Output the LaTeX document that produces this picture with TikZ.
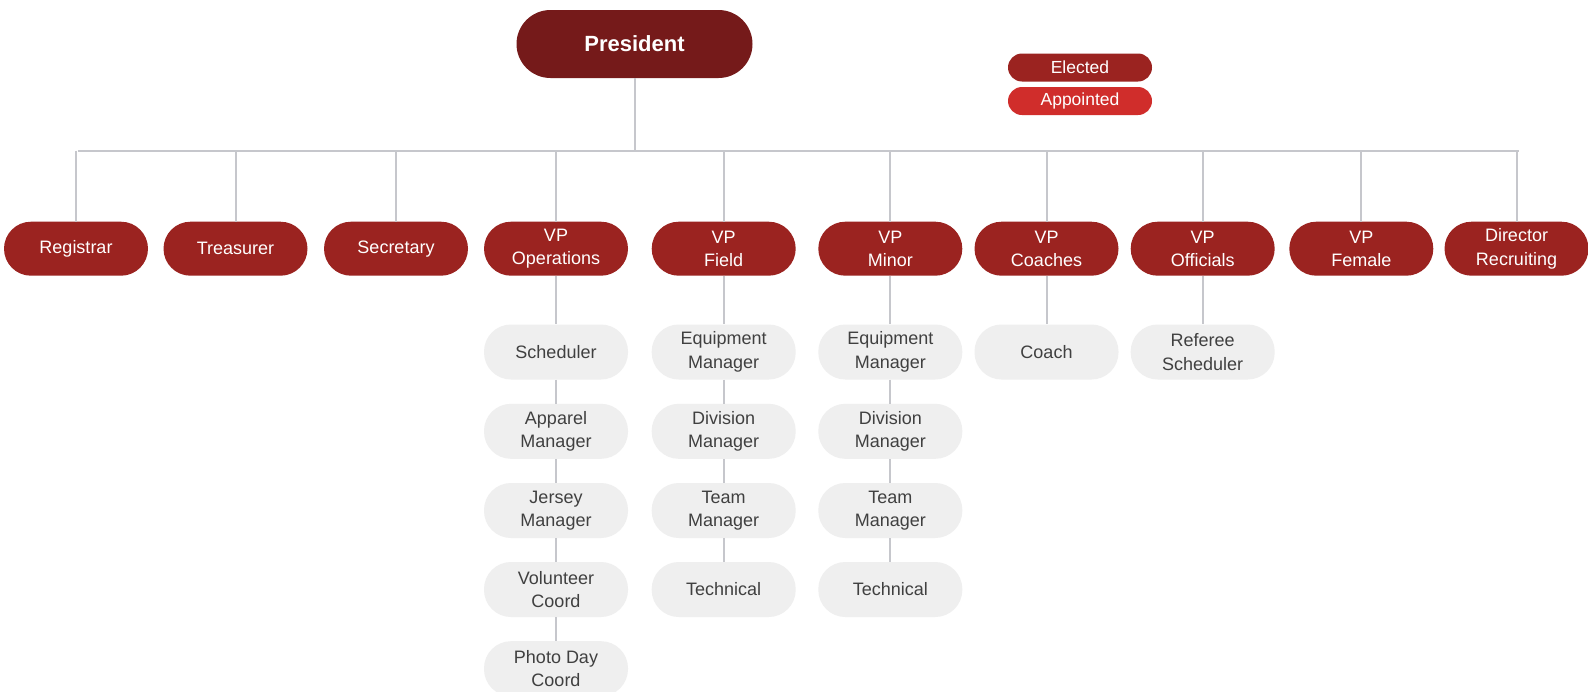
\documentclass[tikz,border=0pt]{standalone}
\usepackage{fontspec}
\setmainfont{Liberation Sans}
\definecolor{cPres}{HTML}{751A1A}
\definecolor{cRed}{HTML}{9B2320}
\definecolor{cApp}{HTML}{D02D2B}
\definecolor{cGray}{HTML}{EFEFEF}
\definecolor{cLine}{HTML}{C6C7CC}
\definecolor{cGText}{HTML}{404040}
\begin{document}
\begin{tikzpicture}[x=1pt,y=-1pt,
  pill/.style={rectangle, rounded corners=27pt, minimum width=144pt, minimum height=54pt,
    inner sep=0pt, align=center, font=\fontsize{18}{23.4}\selectfont},
  redbox/.style={pill, fill=cRed, text=white},
  graybox/.style={pill, fill=cGray, text=cGText, minimum height=55pt},
  presbox/.style={rectangle, rounded corners=34pt, minimum width=236pt, minimum height=68pt,
    fill=cPres, text=white, font=\fontsize{22}{26}\selectfont\bfseries},
  legbox/.style={rectangle, rounded corners=14pt, minimum width=144pt, minimum height=28pt,
    inner sep=0pt, text=white, font=\fontsize{17.5}{20}\selectfont},
  conn/.style={draw=cLine, line width=2pt}]
\useasboundingbox (0,0) rectangle (1588,691);
\fill[white] (0,0) rectangle (1588,691);

% president and legend
\node[presbox] (pres) at (634.5,44) {President};
\node[legbox, fill=cRed] (le) at (1080,67.5) {Elected};
\node[legbox, fill=cApp] (la) at (1080,101) {Appointed};

% second level
\def\ry{248.7}
\node[redbox] (reg) at (76,\ry) {Registrar};
\node[redbox] (tre) at (235.5,\ry) {Treasurer};
\node[redbox] (sec) at (396,\ry) {Secretary};
\node[redbox] (vop) at (556,\ry) {VP\\Operations};
\node[redbox] (vfi) at (723.7,\ry) {VP\\Field};
\node[redbox] (vmi) at (890.3,\ry) {VP\\Minor};
\node[redbox] (vco) at (1046.5,\ry) {VP\\Coaches};
\node[redbox] (vof) at (1202.7,\ry) {VP\\Officials};
\node[redbox] (vfe) at (1361.3,\ry) {VP\\Female};
\node[redbox] (dre) at (1516.5,\ry) {Director\\Recruiting};

% third level
\node[graybox] (op1) at (556,352) {Scheduler};
\node[graybox] (op2) at (556,431.3) {Apparel\\Manager};
\node[graybox] (op3) at (556,510.5) {Jersey\\Manager};
\node[graybox] (op4) at (556,589.5) {Volunteer\\Coord};
\node[graybox] (op5) at (556,668.7) {Photo Day\\Coord};

\node[graybox] (fi1) at (723.7,352) {Equipment\\Manager};
\node[graybox] (fi2) at (723.7,431.3) {Division\\Manager};
\node[graybox] (fi3) at (723.7,510.5) {Team\\Manager};
\node[graybox] (fi4) at (723.7,589.5) {Technical};

\node[graybox] (mi1) at (890.3,352) {Equipment\\Manager};
\node[graybox] (mi2) at (890.3,431.3) {Division\\Manager};
\node[graybox] (mi3) at (890.3,510.5) {Team\\Manager};
\node[graybox] (mi4) at (890.3,589.5) {Technical};

\node[graybox] (co1) at (1046.5,352) {Coach};
\node[graybox] (of1) at (1202.7,352) {Referee\\Scheduler};

% connectors
\coordinate (barL) at (77.7,150.5);
\coordinate (barR) at (1519,150.5);
\draw[conn] (barL) -- (barR);
\draw[conn] (pres.south) -- (pres.south |- barL);
\foreach \n in {reg,tre,sec,vop,vfi,vmi,vco,vof,vfe,dre}
  \draw[conn] (\n.north |- barL) -- (\n.north);
\draw[conn] (vop.south) -- (op1.north);
\draw[conn] (op1.south) -- (op2.north);
\draw[conn] (op2.south) -- (op3.north);
\draw[conn] (op3.south) -- (op4.north);
\draw[conn] (op4.south) -- (op5.north);
\draw[conn] (vfi.south) -- (fi1.north);
\draw[conn] (fi1.south) -- (fi2.north);
\draw[conn] (fi2.south) -- (fi3.north);
\draw[conn] (fi3.south) -- (fi4.north);
\draw[conn] (vmi.south) -- (mi1.north);
\draw[conn] (mi1.south) -- (mi2.north);
\draw[conn] (mi2.south) -- (mi3.north);
\draw[conn] (mi3.south) -- (mi4.north);
\draw[conn] (vco.south) -- (co1.north);
\draw[conn] (vof.south) -- (of1.north);
\end{tikzpicture}
\end{document}
